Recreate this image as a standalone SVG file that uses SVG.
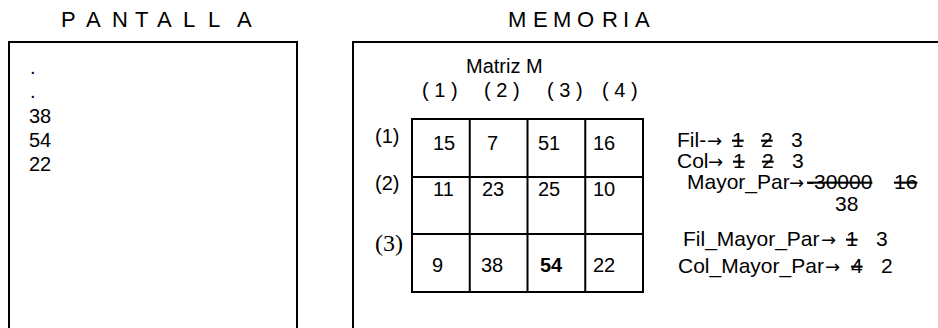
<svg xmlns="http://www.w3.org/2000/svg" width="938" height="328" viewBox="0 0 938 328">
<style>
text{font-family:"Liberation Sans",Arial,sans-serif;fill:#000}
.title{font-size:22px}
.t20{font-size:20px}
.t21{font-size:21px}
.arr{font-family:"DejaVu Sans",sans-serif;font-size:18px}
.s{text-decoration:line-through}
.box{fill:none;stroke:#000;stroke-width:2}
.grid{fill:none;stroke:#000;stroke-width:2}
</style>
<rect width="938" height="328" fill="#fff"/>
<g id="pantalla">
<text class="title" x="61 76 86 101 112 127 135 149 157 172 183 196 208 222 237" y="27">P A N T A L L A</text>
<path class="box" d="M9,340 V42 H297 V340"/>
<g class="t20">
<text x="30" y="74">.</text>
<text x="30" y="98">.</text>
<text x="29" y="123">38</text>
<text x="29" y="147">54</text>
<text x="29" y="171">22</text>
</g>
</g>
<g id="memoria">
<text class="title" x="508 522 533 545 553 568 577 592 602 614 623 628 635" y="27">M E M O R I A</text>
<path class="box" d="M353,340 V42 H940"/>
</g>
<g id="matriz">
<text class="t20" x="466" y="73">Matriz M</text>
<g class="t20">
<text x="422" y="97">( 1 )</text>
<text x="484" y="97">( 2 )</text>
<text x="547" y="97">( 3 )</text>
<text x="602" y="97">( 4 )</text>
<text x="375" y="143">(1)</text>
<text x="375" y="190">(2)</text>
</g>
<text x="375" y="251" style="font-family:'Liberation Serif','Times New Roman',serif;font-size:24px">(3)</text>
<path class="grid" d="M412,119 H643 V292 H412 Z M469.75,119 V292 M527.5,119 V292 M585.25,119 V292 M412,177 H643 M412,234 H643"/>
<g class="t20">
<text x="433" y="150">15</text>
<text x="487" y="150">7</text>
<text x="538" y="150">51</text>
<text x="593" y="150">16</text>
<text x="433" y="196">11</text>
<text x="482" y="196">23</text>
<text x="538" y="196">25</text>
<text x="593" y="196">10</text>
<text x="432" y="272">9</text>
<text x="481" y="272">38</text>
<text x="540" y="272" font-weight="bold">54</text>
<text x="593" y="272">22</text>
</g>
</g>
<g id="variables" class="t21">
<text y="147"><tspan x="677">Fil-</tspan><tspan class="arr" x="707">→</tspan><tspan class="s" x="732">1</tspan><tspan class="s" x="761">2</tspan><tspan x="791">3</tspan></text>
<text y="168"><tspan x="677">Col</tspan><tspan class="arr" x="708">→</tspan><tspan class="s" x="733">1</tspan><tspan class="s" x="762">2</tspan><tspan x="792">3</tspan></text>
<text y="189"><tspan x="687">Mayor_Par</tspan><tspan class="arr" x="789">→</tspan><tspan class="s" x="807">-30000</tspan><tspan class="s" x="894">16</tspan></text>
<text x="835" y="211">38</text>
<text y="246"><tspan x="683">Fil_Mayor_Par</tspan><tspan class="arr" x="821">→</tspan><tspan class="s" x="846">1</tspan><tspan x="876">3</tspan></text>
<text y="273"><tspan x="678">Col_Mayor_Par</tspan><tspan class="arr" x="825">→</tspan><tspan class="s" x="851">4</tspan><tspan x="881">2</tspan></text>
</g>
</svg>
